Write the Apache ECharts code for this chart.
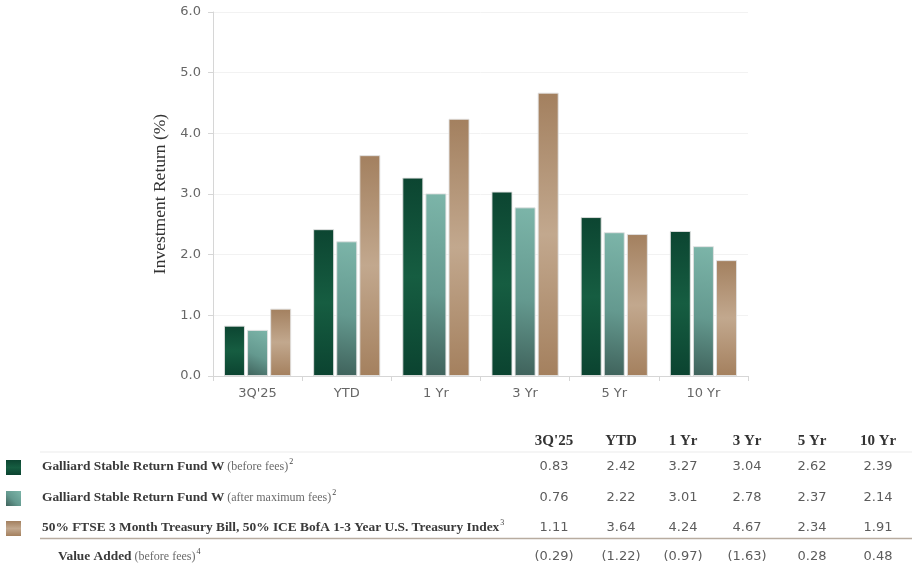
<!DOCTYPE html>
<html><head><meta charset="utf-8">
<script src="https://cdn.jsdelivr.net/npm/echarts@6/dist/echarts.min.js"></script>
<style>html,body{margin:0;padding:0;background:#fff}#c{width:924px;height:574px}</style>
</head><body><div id="c"></div>
<script>
// ---- data ----
const categories = ["3Q'25", "YTD", "1 Yr", "3 Yr", "5 Yr", "10 Yr"];
const fundBeforeFees = [0.83, 2.42, 3.27, 3.04, 2.62, 2.39];
const fundAfterFees = [0.76, 2.22, 3.01, 2.78, 2.37, 2.14];
const benchmark = [1.11, 3.64, 4.24, 4.67, 2.34, 1.91];
const valueAdded = [-0.29, -1.22, -0.97, -1.63, 0.28, 0.48];
const yTicks = [0, 1, 2, 3, 4, 5, 6];
const yAxisTitle = "Investment Return (%)";
const rowNames = ["Galliard Stable Return Fund W", "Galliard Stable Return Fund W",
  "50% FTSE 3 Month Treasury Bill, 50% ICE BofA 1-3 Year U.S. Treasury Index", "Value Added"];
const rowNotes = ["(before fees)", "(after maximum fees)", "", "(before fees)"];
const rowSups = ["2", "2", "3", "4"];

// ---- styles ----
const G = echarts.graphic;
const greenFill = new G.LinearGradient(0, 0, 0, 1, [
  {offset: 0, color: '#0c4531'}, {offset: 0.5, color: '#165d41'}, {offset: 1, color: '#0b4330'}]);
const tealFill = new G.LinearGradient(0, 1, 1, 0, [
  {offset: 0, color: '#3f625b'}, {offset: 0.45, color: '#64998f'}, {offset: 1, color: '#7cb5a9'}]);
const tanFill = new G.LinearGradient(0, 0, 0, 1, [
  {offset: 0, color: '#a3805f'}, {offset: 0.5, color: '#c2a88e'}, {offset: 1, color: '#a4805e'}]);
const fills = [greenFill, tealFill, tanFill];
const seriesData = [fundBeforeFees, fundAfterFees, benchmark];

const sansFont = "'DejaVu Sans', sans-serif";
const serifFont = "'Liberation Serif', 'DejaVu Serif', serif";
const colX = [554, 621, 683, 747, 812, 878];
const rowY = [467, 498, 528, 557];
const headerY = 441;

function fmt(v) { return v < 0 ? '(' + Math.abs(v).toFixed(2) + ')' : v.toFixed(2); }

const graphics = [];
categories.forEach((c, i) => {
  graphics.push({type: 'text', x: colX[i], y: headerY, style: {text: c, align: 'center', verticalAlign: 'middle',
    textAlign: 'center', textVerticalAlign: 'middle', fill: '#333', font: 'bold 15px ' + serifFont}});
});
graphics.push({type: 'line', shape: {x1: 40, y1: 452, x2: 912, y2: 452}, style: {stroke: '#ebebeb', lineWidth: 1}});
graphics.push({type: 'line', shape: {x1: 40, y1: 538.5, x2: 912, y2: 538.5}, style: {stroke: '#b8aca0', lineWidth: 1.5}});

const rowValues = [fundBeforeFees, fundAfterFees, benchmark, valueAdded];
rowValues.forEach((vals, r) => {
  const y = rowY[r];
  if (r < 3) {
    graphics.push({type: 'rect', shape: {x: 6, y: y - 7, width: 15, height: 15}, style: {fill: fills[r]}});
  }
  let txt = '{a|' + rowNames[r] + '}';
  if (rowNotes[r]) txt += '{b| ' + rowNotes[r] + '}';
  txt += '{s|' + rowSups[r] + '}';
  graphics.push({type: 'text', x: r < 3 ? 42 : 58, y: y, style: {
    text: txt, align: 'left', verticalAlign: 'middle', textAlign: 'left', textVerticalAlign: 'middle',
    rich: {
      a: {fontFamily: serifFont, fontWeight: 'bold', fontSize: 13.4, fill: '#3a3a3a', color: '#3a3a3a', lineHeight: 18},
      b: {fontFamily: serifFont, fontSize: 12, fill: '#6a6a6a', color: '#6a6a6a', lineHeight: 18},
      s: {fontFamily: serifFont, fontSize: 8, fill: '#444', color: '#444', verticalAlign: 'top', lineHeight: 18, padding: [0, 0, 0, 1]}
    }}});
  vals.forEach((v, i) => {
    graphics.push({type: 'text', x: colX[i], y: y, style: {text: fmt(v), align: 'center', verticalAlign: 'middle',
      textAlign: 'center', textVerticalAlign: 'middle', fill: '#5c5c5c', font: '13px ' + sansFont}});
  });
});

const chart = echarts.init(document.getElementById('c'), null, {renderer: 'canvas'});
chart.setOption({
  animation: false,
  backgroundColor: '#fff',
  grid: {left: 213, right: 176, top: 12, bottom: 198, containLabel: false},
  xAxis: {
    type: 'category', data: categories,
    axisLine: {lineStyle: {color: '#d6d6d6'}},
    axisTick: {show: true, length: 5, lineStyle: {color: '#d6d6d6'}},
    axisLabel: {color: '#666', fontFamily: sansFont, fontSize: 13, margin: 11}
  },
  yAxis: {
    type: 'value', min: yTicks[0], max: yTicks[yTicks.length - 1], interval: yTicks[1] - yTicks[0],
    name: yAxisTitle, nameLocation: 'middle', nameGap: 41,
    nameTextStyle: {fontFamily: serifFont, fontSize: 17.5, color: '#333'},
    axisLine: {show: true, lineStyle: {color: '#d6d6d6'}},
    axisTick: {show: true, length: 5, lineStyle: {color: '#d6d6d6'}},
    axisLabel: {color: '#666', fontFamily: sansFont, fontSize: 13, margin: 12, formatter: v => v.toFixed(1)},
    splitLine: {lineStyle: {color: '#f2f2f2'}}
  },
  series: seriesData.map((d, i) => ({
    type: 'bar', data: d, barWidth: 21, barGap: '10%',
    itemStyle: {color: fills[i], borderColor: 'rgba(225,225,225,0.9)', borderWidth: 1}
  })),
  graphic: graphics
});
</script></body></html>
